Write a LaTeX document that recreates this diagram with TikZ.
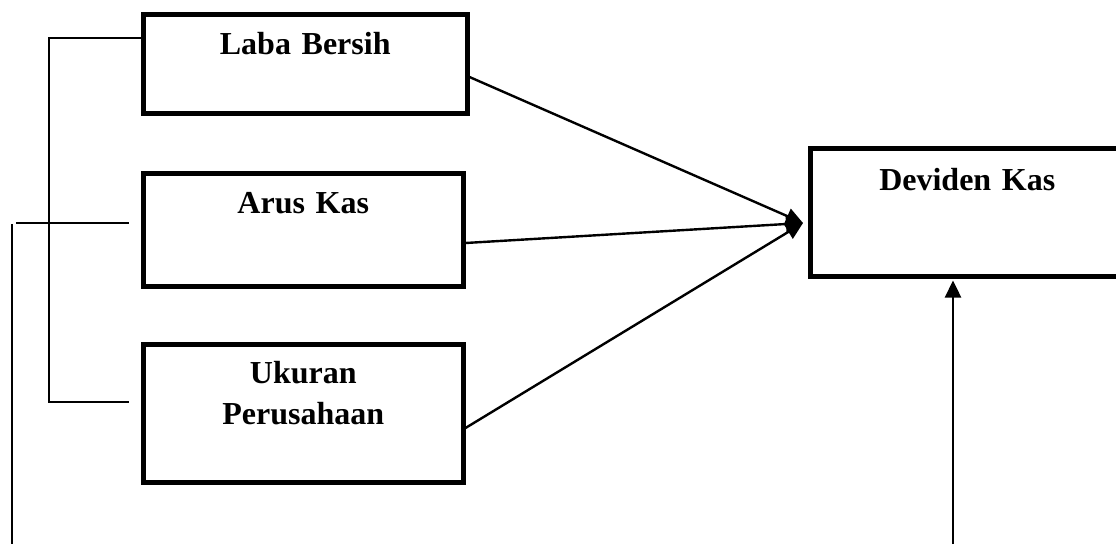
\documentclass[tikz,border=0pt]{standalone}
\usepackage{fontspec}
\setmainfont{Liberation Serif}
\usetikzlibrary{arrows.meta}
\begin{document}
\begin{tikzpicture}[x=1pt,y=-1pt,
  box/.style={draw, line width=4.5pt, rectangle, inner sep=0pt, align=center, anchor=north west,
    font=\fontsize{32}{41}\selectfont\bfseries},
  conn/.style={line width=2.2pt},
  arr/.style={line width=2.4pt, -{Triangle[length=17pt,width=16pt]}}]
\useasboundingbox (0,0) rectangle (1116,544);
\node[box, text width=324pt, text height=40pt, text depth=59pt] (lb) at (141,12) {Laba Bersih};
\node[box, text width=320pt, text height=40pt, text depth=73pt] (ak) at (141,171) {Arus Kas};
\node[box, text width=320pt, text height=39pt, text depth=99pt] (up) at (141,342) {Ukuran\\Perusahaan};
\node[box, text width=314pt, text height=42pt, text depth=86pt] (dk) at (808,146) {Deviden Kas};
% bracket
\coordinate (b1) at (49,38);
\coordinate (b2) at (49,402);
\coordinate (b2e) at (129,402);
\draw[conn] (lb.west |- b1) -- (b1) -- (b2) -- (b2e);
\coordinate (m1) at (16,223);
\coordinate (m2) at (129,223);
\draw[conn] (m1) -- (m2);
\coordinate (v1) at (12,224);
\coordinate (v2) at (12,544);
\draw[conn] (v1) -- (v2);
% arrows to Deviden Kas
\coordinate (tip) at (803,223);
\draw[arr] (lb.east |- 0,77) -- (tip);
\draw[arr] (ak.east |- 0,243) -- (tip);
\draw[arr] (up.east |- 0,428) -- (tip);
% upward arrow
\coordinate (u0) at (953,544);
\draw[arr, shorten >=2pt] (u0) -- (u0 |- dk.south);
\end{tikzpicture}
\end{document}
